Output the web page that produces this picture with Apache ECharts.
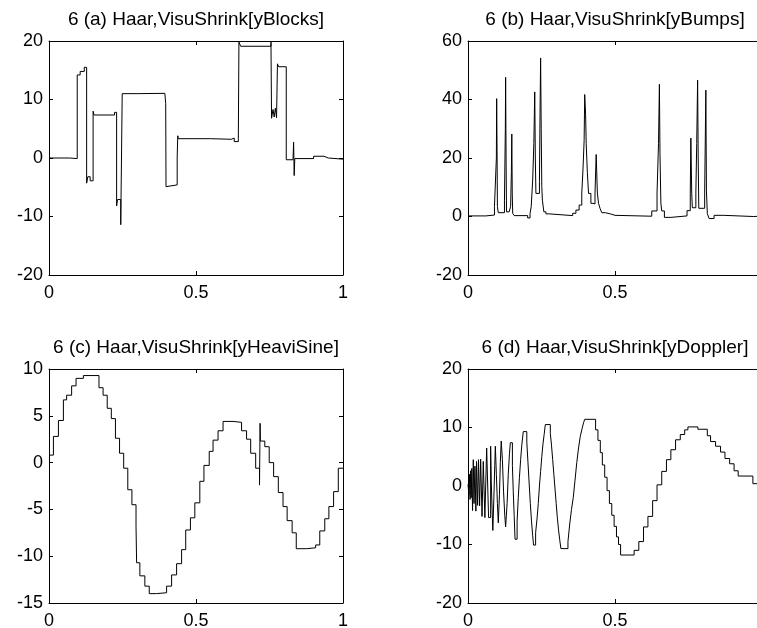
<!DOCTYPE html>
<html>
<head>
<meta charset="utf-8">
<script src="https://cdn.jsdelivr.net/npm/echarts/dist/echarts.min.js"></script>
<style>
  html, body { margin: 0; padding: 0; background: #fff; }
  #chart { width: 757px; height: 628px; }
</style>
</head>
<body>
<div id="chart"></div>
<script>
// ---------------- data ----------------
const xTicks = [0, 0.5, 1];

const blocksX = [0, 0.07, 0.096, 0.106, 0.12, 0.128, 0.132, 0.140, 0.150, 0.153, 0.223, 0.230, 0.233, 0.244, 0.249, 0.300, 0.394, 0.397, 0.398, 0.403, 0.436, 0.438, 0.440, 0.550, 0.620, 0.630, 0.644, 0.646, 0.652, 0.755, 0.757, 0.762, 0.766, 0.770, 0.774, 0.777, 0.781, 0.807, 0.830, 0.832, 0.834, 0.836, 0.900, 0.935, 0.950, 1.0];
const blocksY = [0, -0.1, 14.2, 14.8, 15.5, -4.3, -3.2, -3.9, 8.0, 7.35, 7.8, -8.2, -7.1, -11.4, 11.0, 11.05, 11.2, 9.3, -4.9, -4.6, 0.2, 3.8, 3.3, 3.2, 3.4, 2.8, 3.4, 19.8, 19.1, 19.8, 6.8, 8.3, 7.0, 8.5, 6.9, 16.1, 15.6, -0.3, -0.1, 2.7, -3.0, -0.1, 0.3, 0.0, -0.2, -0.2];

const bumpsX = [0, 0.061, 0.090, 0.0965, 0.0975, 0.099, 0.100, 0.103, 0.124, 0.127, 0.128, 0.1295, 0.131, 0.140, 0.145, 0.1475, 0.149, 0.1505, 0.152, 0.157, 0.203, 0.211, 0.215, 0.220, 0.224, 0.227, 0.229, 0.231, 0.243, 0.245, 0.247, 0.249, 0.251, 0.253, 0.258, 0.265, 0.276, 0.356, 0.367, 0.378, 0.387, 0.391, 0.395, 0.397, 0.400, 0.402, 0.406, 0.410, 0.418, 0.425, 0.432, 0.436, 0.440, 0.444, 0.449, 0.455, 0.467, 0.484, 0.500, 0.625, 0.643, 0.648, 0.651, 0.653, 0.656, 0.659, 0.668, 0.690, 0.745, 0.756, 0.758, 0.761, 0.763, 0.775, 0.778, 0.781, 0.783, 0.785, 0.805, 0.809, 0.811, 0.814, 0.820, 0.837, 0.870, 0.970, 1.0];
const bumpsY = [0.2, 0.5, 3.4, 20, 40.3, 20, 3.4, 1.3, 5.6, 30, 47.6, 20, 1.6, 1.0, 3.5, 15, 28.2, 8, 1.1, 0.3, -0.5, 1.0, 3.4, 12.5, 25, 42.6, 20, 7.9, 12, 35, 54.2, 30, 10.2, 5.6, 1.6, 0.9, 0.3, 1.1, 2.2, 3.9, 8, 15.9, 26, 41.7, 35, 25, 15, 7.9, 4.5, 4.3, 8, 21.2, 8, 4.5, 2.8, 1.3, 0.9, 0.4, 0.1, 1.9, 8, 25, 45.2, 21.6, 4.6, 1.9, -0.3, 0.2, 2.0, 8, 26.8, 8, 3.0, 8, 25, 46.6, 20, 2.8, 8, 43.2, 9, 1.0, -0.7, 0.4, 0.0, 0.1, 0.1];

const heaviX = [0, 0.015, 0.032, 0.049, 0.060, 0.077, 0.092, 0.117, 0.170, 0.184, 0.198, 0.212, 0.226, 0.240, 0.254, 0.268, 0.282, 0.296, 0.298, 0.309, 0.326, 0.341, 0.366, 0.400, 0.417, 0.434, 0.451, 0.465, 0.481, 0.496, 0.513, 0.527, 0.545, 0.558, 0.575, 0.592, 0.626, 0.655, 0.672, 0.686, 0.703, 0.716, 0.718, 0.719, 0.734, 0.749, 0.764, 0.780, 0.796, 0.810, 0.827, 0.841, 0.875, 0.907, 0.921, 0.938, 0.952, 0.968, 0.984, 1.0];
const heaviY = [0.8, 2.8, 4.5, 6.7, 7.2, 8.2, 9.0, 9.3, 8.0, 7.2, 5.8, 4.7, 2.6, 1.0, -0.6, -2.9, -4.5, -6.8, -10.7, -12.1, -13.2, -14.0, -13.9, -13.2, -12.0, -10.8, -9.3, -7.2, -5.9, -4.3, -2.0, -0.3, 1.2, 2.4, 3.4, 4.4, 4.3, 3.4, 2.5, 1.0, -0.6, -2.4, 4.2, 2.3, 1.7, 0.0, -1.5, -3.2, -4.7, -6.2, -7.5, -9.2, -9.1, -8.8, -7.3, -6.0, -4.7, -3.1, -0.6, -0.6];

const dopplerX = [0.000, 0.003, 0.005, 0.007, 0.009, 0.011, 0.013, 0.0155, 0.018, 0.0205, 0.0235, 0.0268, 0.029, 0.0327, 0.0357, 0.0395, 0.043, 0.0477, 0.052, 0.0574, 0.0635, 0.070, 0.077, 0.079, 0.082, 0.0845, 0.088, 0.091, 0.093, 0.0965, 0.100, 0.103, 0.107, 0.110, 0.113, 0.117, 0.121, 0.125, 0.128, 0.133, 0.137, 0.141, 0.144, 0.151, 0.154, 0.157, 0.160, 0.167, 0.171, 0.175, 0.179, 0.183, 0.188, 0.200, 0.204, 0.208, 0.212, 0.216, 0.220, 0.223, 0.230, 0.235, 0.239, 0.243, 0.247, 0.251, 0.255, 0.259, 0.263, 0.280, 0.284, 0.288, 0.292, 0.296, 0.300, 0.304, 0.308, 0.312, 0.316, 0.340, 0.346, 0.352, 0.358, 0.364, 0.370, 0.376, 0.382, 0.388, 0.393, 0.397, 0.434, 0.442, 0.450, 0.457, 0.465, 0.473, 0.481, 0.489, 0.497, 0.505, 0.512, 0.519, 0.565, 0.581, 0.597, 0.612, 0.628, 0.643, 0.659, 0.675, 0.690, 0.706, 0.722, 0.737, 0.748, 0.782, 0.814, 0.825, 0.842, 0.859, 0.874, 0.890, 0.905, 0.919, 0.969, 1.000];
const dopplerY = [0.3, -1.5, 2.0, -2.3, 2.6, -2.0, 3.0, -4.2, 4.5, -3.0, 3.4, -4.3, 4.2, -3.3, 4.5, -3.4, 4.6, -5.2, 4.2, -5.4, 6.5, -5.4, 6.8, 1.0, -4.0, -7.6, -2.0, 3.5, 6.8, 2.0, -3.0, -6.3, -1.5, 4.0, 7.7, 4.5, -1.0, -5.0, -7.0, -3.0, 2.0, 5.5, 7.4, 3.5, -1.0, -5.0, -9.1, -6.0, -2.0, 1.5, 4.5, 7.0, 9.3, 7.5, 4.0, 0.5, -3.0, -6.0, -8.5, -10.1, -8.0, -5.5, -3.0, 0.0, 2.5, 5.0, 7.2, 8.8, 10.5, 9.0, 7.0, 4.5, 2.0, -0.5, -3.0, -5.5, -7.5, -9.2, -10.7, -9.5, -6.5, -4.0, -2.0, 1.0, 4.0, 6.5, 8.5, 9.8, 10.8, 11.4, 9.6, 7.8, 5.7, 3.6, 1.5, -0.8, -3.0, -5.0, -6.9, -8.7, -10.0, -11.8, -11.0, -9.5, -7.0, -5.2, -2.5, 0.2, 2.5, 4.5, 6.2, 7.9, 8.8, 9.6, 10.1, 9.7, 8.6, 7.6, 6.8, 5.8, 4.7, 3.8, 2.6, 1.7, 0.4, 0.4];

const titles = [
  '6 (a) Haar,VisuShrink[yBlocks]',
  '6 (b) Haar,VisuShrink[yBumps]',
  '6 (c) Haar,VisuShrink[yHeaviSine]',
  '6 (d) Haar,VisuShrink[yDoppler]'
];
const yRanges = [[-20, 20, 10], [-20, 60, 20], [-15, 10, 5], [-20, 20, 10]];
const seriesX = [blocksX, bumpsX, heaviX, dopplerX];
const seriesY = [blocksY, bumpsY, heaviY, dopplerY];

// ---------------- layout / styling ----------------
const FONT = '"Liberation Sans", Arial, Helvetica, sans-serif';
const grids = [
  { left: 49, top: 41 },
  { left: 468, top: 41 },
  { left: 49, top: 369 },
  { left: 468, top: 369 }
];
const GW = 294, GH = 234;

const option = {
  animation: false,
  backgroundColor: '#fff',
  grid: [], xAxis: [], yAxis: [], series: [], graphic: []
};

grids.forEach((g, i) => {
  option.grid.push({ left: g.left, top: g.top, width: GW, height: GH, containLabel: false, outerBoundsMode: 'none', show: false });
  const axLine = { show: true, onZero: false, lineStyle: { color: '#000', width: 1 } };
  const tick = { show: true, inside: true, length: 4, lineStyle: { color: '#000', width: 1 } };
  const lbl = { show: true, color: '#000', fontSize: 18, fontFamily: FONT };
  option.xAxis.push({
    type: 'value', gridIndex: i, position: 'bottom', min: xTicks[0], max: xTicks[xTicks.length - 1], interval: 0.5,
    axisLine: axLine, axisTick: tick, splitLine: { show: false },
    axisLabel: Object.assign({}, lbl, { margin: 9, formatter: v => String(v) })
  });
  option.xAxis.push({
    type: 'value', gridIndex: i, position: 'top', min: xTicks[0], max: xTicks[xTicks.length - 1], interval: 0.5,
    axisLine: axLine, axisTick: tick, splitLine: { show: false }, axisLabel: { show: false }
  });
  const yr = yRanges[i];
  option.yAxis.push({
    type: 'value', gridIndex: i, position: 'left', min: yr[0], max: yr[1], interval: yr[2],
    axisLine: axLine, axisTick: tick, splitLine: { show: false },
    axisLabel: Object.assign({}, lbl, { margin: 6, formatter: v => String(v) })
  });
  option.yAxis.push({
    type: 'value', gridIndex: i, position: 'right', min: yr[0], max: yr[1], interval: yr[2],
    axisLine: axLine, axisTick: tick, splitLine: { show: false }, axisLabel: { show: false }
  });
  const xs = seriesX[i], ys = seriesY[i];
  option.series.push({
    type: 'line', xAxisIndex: 2 * i, yAxisIndex: 2 * i, step: 'end',
    data: xs.map((x, k) => [x, ys[k]]),
    symbol: 'none', showSymbol: false, clip: true, silent: true,
    lineStyle: { color: '#000', width: 1 }
  });
  option.graphic.push({
    type: 'text', x: g.left + GW / 2, y: g.top - 21.5,
    style: {
      text: titles[i], fill: '#000', font: '19px ' + FONT,
      align: 'center', verticalAlign: 'middle', textAlign: 'center', textVerticalAlign: 'middle'
    }
  });
});

const chart = echarts.init(document.getElementById('chart'), null, { renderer: 'canvas' });
chart.setOption(option);
</script>
</body>
</html>
